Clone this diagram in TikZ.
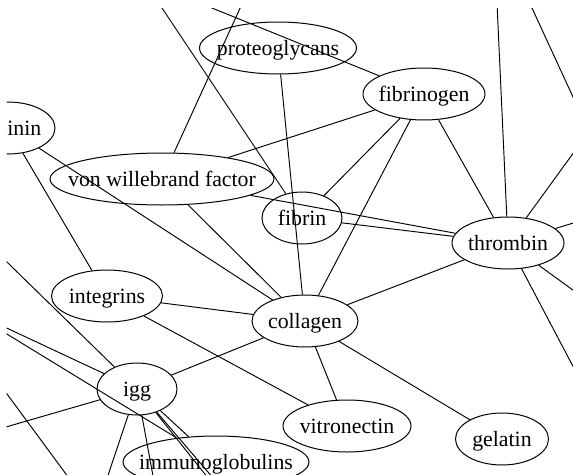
\documentclass[tikz,border=0pt]{standalone}
\usepackage{fontspec}
\setmainfont{Liberation Serif}
\usetikzlibrary{shapes.geometric}
\begin{document}
\begin{tikzpicture}[x=1pt,y=-1pt,
  nd/.style={draw, ellipse, inner sep=0pt, text height=14pt, text depth=0pt, line width=1pt, font=\fontsize{21.8}{24}\selectfont},
  ed/.style={line width=0.95pt}]
\fill[white] (0,0) rectangle (573,474);
\useasboundingbox (0,0) rectangle (573,474);
\begin{scope}
\clip (6.5,8) rectangle (573,474);
% nodes
\node[nd, minimum width=157pt, minimum height=52pt] (proteoglycans) at (278,48) {\makebox[0pt]{proteoglycans}};
\node[nd, minimum width=122pt, minimum height=52pt] (fibrinogen) at (424,94) {\makebox[0pt]{fibrinogen}};
\node[nd, minimum width=94pt, minimum height=52pt] (inin) at (8,128) {\makebox[0pt]{\hphantom{lam}inin}};
\node[nd, minimum width=224pt, minimum height=52pt] (vwf) at (162,179) {\makebox[0pt]{von willebrand factor}};
\node[nd, minimum width=80pt, minimum height=52pt] (fibrin) at (302,218) {\makebox[0pt]{fibrin}};
\node[nd, minimum width=112pt, minimum height=52pt] (thrombin) at (508,243) {\makebox[0pt]{thrombin}};
\node[nd, minimum width=111pt, minimum height=52pt] (integrins) at (107,296) {\makebox[0pt]{integrins}};
\node[nd, minimum width=106pt, minimum height=52pt] (collagen) at (305,321) {\makebox[0pt]{collagen}};
\node[nd, minimum width=80pt, minimum height=52pt] (igg) at (137,389) {\makebox[0pt]{igg}};
\node[nd, minimum width=128pt, minimum height=52pt] (vitronectin) at (347,426) {\makebox[0pt]{vitronectin}};
\node[nd, minimum width=93pt, minimum height=52pt] (gelatin) at (502,439) {\makebox[0pt]{gelatin}};
\node[nd, minimum width=186pt, minimum height=52pt] (immunoglobulins) at (216,462) {\makebox[0pt]{immunoglobulins}};
% off-canvas ends
\coordinate (o1) at (92,-97);
\coordinate (o2) at (279,-77);
\coordinate (o3) at (106,-35);
\coordinate (o4) at (494,-62);
\coordinate (o5a) at (491,-81);
\coordinate (o5b) at (614,186);
\coordinate (o6) at (606,108);
\coordinate (o7) at (606,213);
\coordinate (o8) at (606,314);
\coordinate (o9) at (606,429);
\coordinate (l1) at (-32,224);
\coordinate (l2) at (-34,309);
\coordinate (l3) at (-32,438);
\coordinate (la) at (-49,318);
\coordinate (lb) at (119,546);
\coordinate (b1) at (96,511);
\coordinate (b2) at (160,514);
\coordinate (b3) at (236,513);
\coordinate (b4) at (243,513);
% edges
\draw[ed] (fibrin) -- (o1);
\draw[ed] (vwf) -- (o2);
\draw[ed] (fibrinogen) -- (o3);
\draw[ed] (thrombin) -- (o4);
\draw[ed] (o5a) -- (o5b);
\draw[ed] (thrombin) -- (o6);
\draw[ed] (thrombin) -- (o7);
\draw[ed] (thrombin) -- (o8);
\draw[ed] (thrombin) -- (o9);
\draw[ed] (fibrinogen) -- (vwf);
\draw[ed] (fibrinogen) -- (fibrin);
\draw[ed] (fibrinogen) -- (collagen);
\draw[ed] (fibrinogen) -- (thrombin);
\draw[ed] (proteoglycans) -- (collagen);
\draw[ed] (vwf) -- (thrombin);
\draw[ed] (fibrin) -- (thrombin);
\draw[ed] (vwf) -- (collagen);
\draw[ed] (inin) -- (collagen);
\draw[ed] (inin) -- (integrins);
\draw[ed] (integrins) -- (collagen);
\draw[ed] (integrins) -- (vitronectin);
\draw[ed] (collagen) -- (vitronectin);
\draw[ed] (collagen) -- (gelatin);
\draw[ed] (collagen) -- (thrombin);
\draw[ed] (igg) -- (collagen);
\draw[ed] (igg) -- (l1);
\draw[ed] (igg) -- (l2);
\draw[ed] (immunoglobulins) -- (l2);
\draw[ed] (igg) -- (l3);
\draw[ed] (la) -- (lb);
\draw[ed] (igg) -- (b1);
\draw[ed] (igg) -- (b2);
\draw[ed] (igg) -- (b3);
\draw[ed] (igg) -- (b4);
\draw[ed] (igg) -- (immunoglobulins);
\end{scope}
\end{tikzpicture}
\end{document}
